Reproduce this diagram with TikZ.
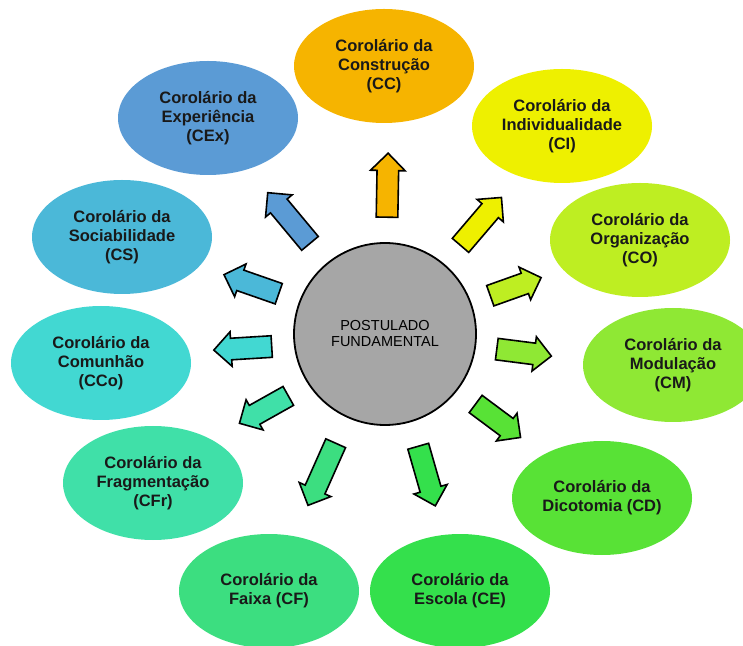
\documentclass[tikz,border=0pt]{standalone}
\usepackage{fontspec}
\setmainfont{Liberation Sans}
\usepackage{xcolor}
\usetikzlibrary{shapes.geometric,shapes.arrows}

% one colour per corollary, running round the wheel
\definecolor{colcc}{HTML}{F6B400}
\definecolor{colci}{HTML}{EEF000}
\definecolor{colco}{HTML}{BEEE22}
\definecolor{colcm}{HTML}{8FE834}
\definecolor{colcd}{HTML}{58E236}
\definecolor{colce}{HTML}{34E04C}
\definecolor{colcf}{HTML}{3CDE80}
\definecolor{colcfr}{HTML}{40E0A8}
\definecolor{colcco}{HTML}{42D8D2}
\definecolor{colcs}{HTML}{4BB8D8}
\definecolor{colcex}{HTML}{5B9BD5}

\begin{document}
\begin{tikzpicture}[
  x=1pt, y=1pt,
  coro/.style={ellipse, fill=#1, minimum width=180pt, minimum height=114pt, inner sep=0pt, align=center, text=black!90,
    font=\fontsize{16.5}{19}\bfseries\selectfont},
  post/.style={circle, draw, line width=1.8pt, fill=black!35, minimum size=182pt, align=center,
    font=\fontsize{14.5}{16}\selectfont},
  blk/.style={single arrow, draw, line width=1.6pt, fill=#1, inner xsep=0pt, inner ysep=10pt,
    minimum width=33pt, single arrow head extend=6.5pt, anchor=tail}
]
\clip (0,0) rectangle (743,645);
% centre
\node[post] (pf) at (385,311) {POSTULADO\\FUNDAMENTAL};
% corollaries
\node[coro=colcc]  (cc)  at (384,579) {Corolário da\\Construção\\(CC)};
\node[coro=colci]  (ci)  at (562,519) {Corolário da\\Individualidade\\(CI)};
\node[coro=colco]  (co)  at (640,405) {Corolário da\\Organização\\(CO)};
\node[coro=colcm]  (cm)  at (673,280) {Corolário da\\Modulação\\(CM)};
\node[coro=colcd]  (cd)  at (602,147) {Corolário da\\Dicotomia (CD)};
\node[coro=colce]  (ce)  at (460,54)  {Corolário da\\Escola (CE)};
\node[coro=colcf]  (cf)  at (269,54)  {Corolário da\\Faixa (CF)};
\node[coro=colcfr] (cfr) at (153,162) {Corolário da\\Fragmentação\\(CFr)};
\node[coro=colcco] (cco) at (101,282) {Corolário da\\Comunhão\\(CCo)};
\node[coro=colcs]  (cs)  at (122,408) {Corolário da\\Sociabilidade\\(CS)};
\node[coro=colcex] (cex) at (208,527) {Corolário da\\Experiência\\(CEx)};
% block arrows going out from the centre
\foreach \n/\x/\y/\a/\l in {cc/387/427/89/64, ci/460/399/49.5/63, co/489.5/349/19.6/54,
    cm/496/296/-7.3/55, cd/475/241.5/-36.7/56, ce/418/199.5/-74/62, cf/336/202.5/-114/68,
    cfr/289/249.5/-150.7/56, cco/272.5/298.5/183.5/58, cs/279.5/351/160.8/58, cex/310.5/401/129.8/66}
  \node[blk=col\n, minimum height=\l, rotate=\a] (a\n) at (\x,\y) {};
\end{tikzpicture}
\end{document}
